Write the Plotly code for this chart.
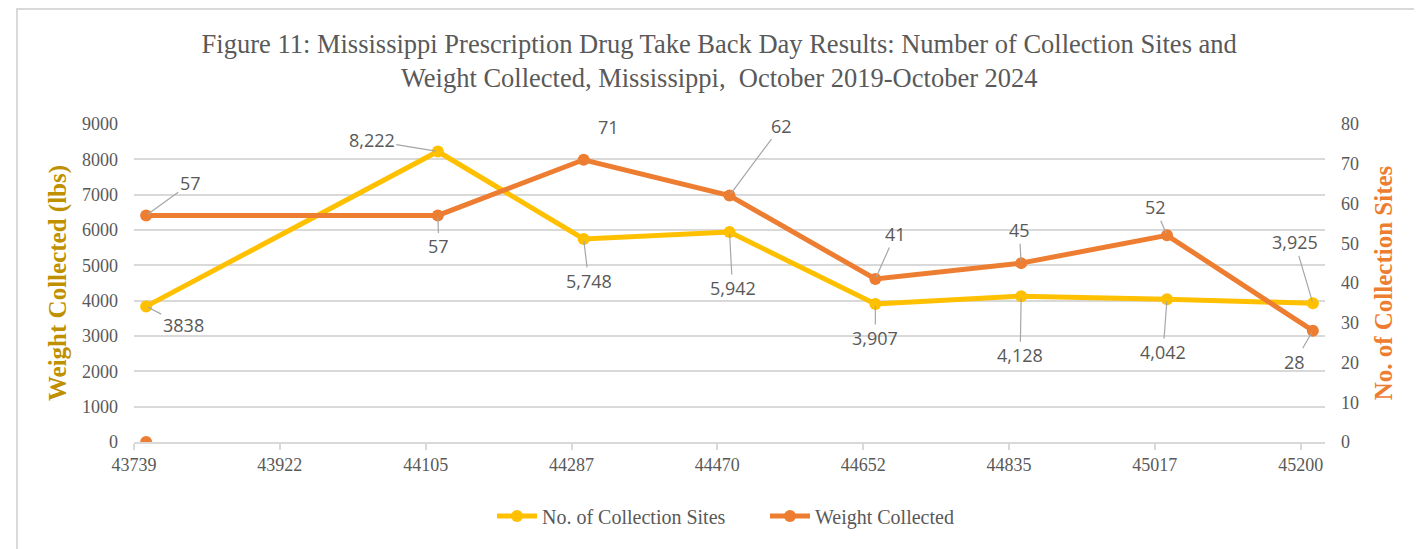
import plotly.graph_objects as go
import pandas as pd

# Excel date serials shown on the x axis (every 6 months)
tick_serials = [43739, 43922, 44105, 44287, 44470, 44652, 44835, 45017, 45200]
# Take Back Day events
event_serials = [43739, 44105, 44287, 44470, 44652, 44835, 45017, 45200]
sites = [3838, 8222, 5748, 5942, 3907, 4128, 4042, 3925]          # left axis (yellow)
sites_text = ["3838", "8,222", "5,748", "5,942", "3,907", "4,128", "4,042", "3,925"]
weight = [57, 57, 71, 62, 41, 45, 52, 28]                          # right axis (orange)
weight_text = ["57", "57", "71", "62", "41", "45", "52", "28"]
stray_serial = [43739]
stray_value = [0]

YELLOW = "#FFC000"
ORANGE = "#ED7D31"
GRID = "#D9D9D9"
TXT = "#595959"
SERIF = "Liberation Serif, Times New Roman, serif"
SANS = "Open Sans, sans-serif"


def month_pos(serials, mid=True):
    """Excel month-based date axis: months equally wide, points centred in month."""
    d = pd.Timestamp("1899-12-30") + pd.to_timedelta(pd.Series(serials), unit="D")
    idx = (d.dt.year - 2019) * 12 + (d.dt.month - 10)
    return (idx + (0.5 if mid else 0.0)).tolist()


x_ev = month_pos(event_serials)
x_ticks = month_pos(tick_serials, mid=False)

fig = go.Figure()
fig.add_trace(go.Scatter(
    x=x_ev, y=sites, mode="lines+markers", name="No. of Collection Sites",
    line=dict(color=YELLOW, width=5), marker=dict(size=12, color=YELLOW),
    yaxis="y"
))
fig.add_trace(go.Scatter(
    x=x_ev, y=weight, mode="lines+markers", name="Weight Collected",
    line=dict(color=ORANGE, width=5), marker=dict(size=12, color=ORANGE),
    yaxis="y2"
))
fig.add_trace(go.Scatter(
    x=month_pos(stray_serial), y=stray_value, mode="markers", showlegend=False,
    marker=dict(size=12, color=ORANGE), yaxis="y2"
))

# label offsets (px) from each point, and whether a leader line is drawn
site_off = [(37, 19, 1), (-66, -11, 1), (5, 42, 1), (3, 56, 1),
            (0, 34, 1), (-1, 59, 1), (-4, 53, 1), (-18, -61, 1)]
weight_off = [(44, -32, 1), (1, 31, 1), (25, -33, 0), (52, -70, 1),
              (20, -45, 1), (-2, -33, 1), (-12, -28, 1), (-18, 31, 1)]


def make_label(xv, yv, t, off, yref):
    ax, ay, lead = off
    base = dict(x=xv, y=yv, xref="x", yref=yref, text=t,
                font=dict(family=SANS, size=18, color=TXT))
    if lead:
        base.update(showarrow=True, ax=ax, ay=ay, arrowhead=0, arrowwidth=1.2,
                    arrowcolor="#A6A6A6", standoff=2)
    else:
        base.update(showarrow=False, xshift=ax, yshift=-ay)
    return base


annotations = []
for xv, yv, t, off in zip(x_ev, sites, sites_text, site_off):
    annotations.append(make_label(xv, yv, t, off, "y"))
for xv, yv, t, off in zip(x_ev, weight, weight_text, weight_off):
    annotations.append(make_label(xv, yv, t, off, "y2"))

fig.update_layout(
    width=1414, height=541,
    margin=dict(l=126, r=97, t=116, b=107),
    paper_bgcolor="white", plot_bgcolor="white",
    title=dict(
        text="Figure 11: Mississippi Prescription Drug Take Back Day Results: Number of Collection Sites and"
             "<br>Weight Collected, Mississippi,  October 2019-October 2024",
        x=0.503, xref="container", xanchor="center",
        y=0.917, yref="container", yanchor="middle",
        font=dict(family=SERIF, size=26.5, color=TXT)
    ),
    xaxis=dict(
        range=[0, 49], tickmode="array", tickvals=x_ticks,
        ticktext=[str(s) for s in tick_serials],
        showgrid=False, zeroline=False, showline=True, linecolor=GRID, linewidth=1.5,
        ticks="outside", ticklen=6, tickcolor=GRID, tickwidth=1.5,
        tickfont=dict(family=SERIF, size=18, color=TXT)
    ),
    yaxis=dict(
        range=[0, 9000], dtick=1000, showgrid=True, gridcolor=GRID, gridwidth=1.5,
        zeroline=False, showline=False, ticklabelstandoff=15,
        tickfont=dict(family=SERIF, size=18, color=TXT),
        title=dict(text="<b>Weight Collected (lbs)</b>", standoff=8,
                   font=dict(family=SERIF, size=25, color="#BF9000"))
    ),
    yaxis2=dict(
        range=[0, 80], dtick=10, overlaying="y", side="right", showgrid=False,
        zeroline=False, showline=False, ticklabelstandoff=15,
        tickfont=dict(family=SERIF, size=18, color=TXT),
        title=dict(text="<b>No. of Collection Sites</b>", standoff=16,
                   font=dict(family=SERIF, size=25, color=ORANGE))
    ),
    legend=dict(
        orientation="h", x=0.3006, xanchor="left", y=-0.233, yanchor="middle",
        font=dict(family=SERIF, size=20, color=TXT), itemwidth=40,
        entrywidth=218, entrywidthmode="pixels"
    ),
    annotations=annotations,
    shapes=[dict(
        type="rect", xref="paper", yref="paper",
        x0=-0.0982, x1=1.0806, y0=-0.349, y1=1.3616,
        line=dict(color=GRID, width=2), fillcolor="rgba(0,0,0,0)", layer="below"
    )],
    showlegend=True
)

fig.write_html("out.html")
